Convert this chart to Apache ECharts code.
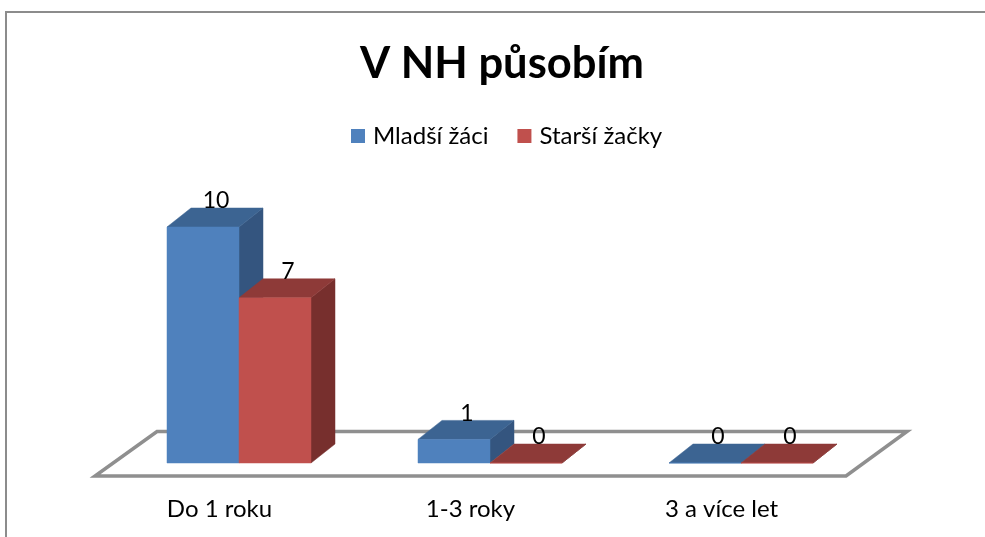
<!DOCTYPE html>
<html>
<head>
<meta charset="utf-8">
<style>
  html, body { margin: 0; padding: 0; background: #fff; }
  #chart { width: 985px; height: 537px; }
</style>
<script src="https://cdn.jsdelivr.net/npm/echarts@6/dist/echarts.min.js"></script>
</head>
<body>
<div id="chart"></div>
<script>
  var categories = ['Do 1 roku', '1-3 roky', '3 a více let']
  var mladsiZaci = [10, 1, 0]
  var starsiZacky = [7, 0, 0]
  var chartTitle = 'V NH působím'

  var FONT = 'Lato, "Noto Sans", sans-serif'
  var BAR_W = 72
  var DEPTH_X = 24
  var DEPTH_Y = 19

  // one 3d box: front face, side, top. side = -1 left of category centre, 0 right of it
  function boxRenderer(side, front, top, right) {
    return function (params, api) {
      var p = api.coord([api.value(0), api.value(1)])
      var base = api.coord([api.value(0), 0])
      var x0 = p[0] + side * BAR_W
      var x1 = x0 + BAR_W
      var yt = p[1]
      var yb = base[1]
      function poly(points, color) {
        return {
          type: 'polygon',
          shape: { points: points },
          style: { fill: color, stroke: color, lineWidth: 0.5 },
        }
      }
      return {
        type: 'group',
        children: [
          poly([[x1, yt], [x1 + DEPTH_X, yt - DEPTH_Y], [x1 + DEPTH_X, yb - DEPTH_Y], [x1, yb]], right),
          poly([[x0, yt], [x0 + DEPTH_X, yt - DEPTH_Y], [x1 + DEPTH_X, yt - DEPTH_Y], [x1, yt]], top),
          poly([[x0, yt], [x1, yt], [x1, yb], [x0, yb]], front),
          {
            type: 'text',
            z2: 10,
            style: {
              x: (x0 + x1) / 2 + 13,
              y: yt - DEPTH_Y - 7,
              text: String(api.value(1)),
              fill: '#000',
              font: '23px ' + FONT,
              align: 'center',
              verticalAlign: 'middle',
            },
          },
        ],
      }
    }
  }

  function floorRenderer(params) {
    var r = params.coordSys
    var bottom = r.y + r.height
    return {
      type: 'polygon',
      shape: {
        points: [
          [r.x - 18.5, bottom + 13],
          [r.x + r.width - 20.5, bottom + 13],
          [r.x + r.width + 40.5, bottom - 31.5],
          [r.x + 43.5, bottom - 31.5],
        ],
      },
      style: { fill: '#fff', stroke: '#8f8f8f', lineWidth: 3.5 },
    }
  }

  function toPoints(values) {
    return values.map(function (v, i) {
      return [i, v]
    })
  }

  var chart = echarts.init(document.getElementById('chart'))
  chart.setOption({
    backgroundColor: '#fff',
    animation: false,
    title: {
      text: chartTitle,
      left: 355,
      top: 37,
      textStyle: { fontFamily: FONT, fontSize: 43.5, fontWeight: 'bold', color: '#000' },
    },
    legend: {
      left: 346,
      top: 119,
      icon: 'rect',
      itemWidth: 14,
      itemHeight: 14,
      itemGap: 29,
      selectedMode: false,
      data: ['Mladší žáci', 'Starší žačky'],
      textStyle: { fontFamily: FONT, fontSize: 24, color: '#000', padding: [0, 0, 0, 3] },
    },
    graphic: [
      {
        type: 'rect',
        shape: { x: 6, y: 12, width: 1100, height: 700 },
        style: { fill: 'none', stroke: '#8c8c8c', lineWidth: 2 },
        silent: true,
        z: -1,
      },
    ],
    grid: { left: 113.5, width: 753, top: 227, height: 236 },
    xAxis: {
      type: 'category',
      data: categories,
      axisLine: { show: false },
      axisTick: { show: false },
      axisLabel: {
        margin: 34,
        padding: [0, 39, 0, 0],
        fontFamily: FONT,
        fontSize: 24,
        color: '#000',
      },
    },
    yAxis: {
      type: 'value',
      min: 0,
      max: 10,
      interval: 2,
      show: false,
    },
    series: [
      {
        name: 'floor',
        type: 'custom',
        clip: false,
        silent: true,
        z: 1,
        data: [[0, 0]],
        renderItem: floorRenderer,
      },
      {
        name: 'Mladší žáci',
        type: 'custom',
        clip: false,
        z: 2,
        itemStyle: { color: '#4f81bd' },
        encode: { x: 0, y: 1 },
        data: toPoints(mladsiZaci),
        renderItem: boxRenderer(-1, '#4f81bd', '#3c6492', '#34557f'),
      },
      {
        name: 'Starší žačky',
        type: 'custom',
        clip: false,
        z: 3,
        itemStyle: { color: '#c0504d' },
        encode: { x: 0, y: 1 },
        data: toPoints(starsiZacky),
        renderItem: boxRenderer(0, '#c0504d', '#8e3a38', '#772f2d'),
      },
    ],
  })
</script>
</body>
</html>
